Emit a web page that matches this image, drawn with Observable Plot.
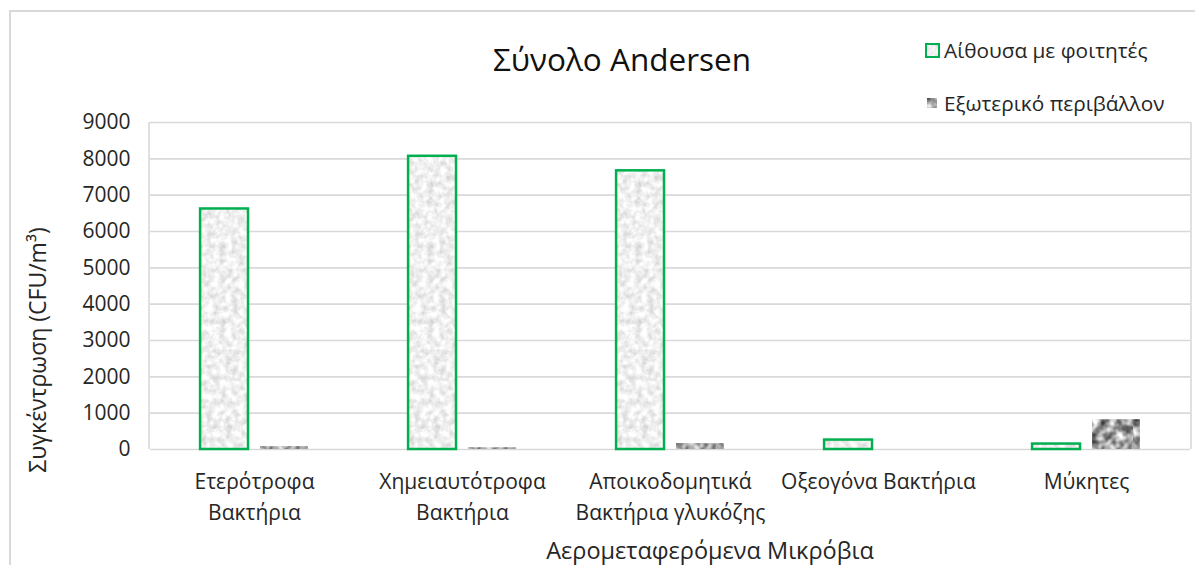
<!DOCTYPE html>
<html>
<head>
<meta charset="utf-8">
<script src="https://cdn.jsdelivr.net/npm/d3@7"></script>
<script src="https://cdn.jsdelivr.net/npm/@observablehq/plot@0.6"></script>
<style>
  html, body { margin: 0; padding: 0; background: #fff; overflow: hidden; }
  #chart { position: relative; width: 1195px; height: 565px; font-family: "Open Sans", "Noto Sans", sans-serif; color: #333; }
  #chart > svg.plot { position: absolute; left: 0; top: 0; }
  .outer { position: absolute; left: 9px; top: 10px; right: -4px; bottom: -4px; border-left: 2px solid #d9d9d9; border-top: 2px solid #d9d9d9; }
  .lbl { position: absolute; white-space: nowrap; line-height: 1.2; transform: translate(-50%, -50%); }
</style>
</head>
<body>
<div id="chart">
  <div class="outer"></div>
  <svg width="0" height="0" style="position:absolute">
    <defs>
      <filter id="noise-light" x="0" y="0" width="100%" height="100%" color-interpolation-filters="sRGB">
        <feTurbulence type="fractalNoise" baseFrequency="0.16" numOctaves="3" seed="4"/>
        <feColorMatrix type="matrix" values="0.3 0 0 0 0.79  0.3 0 0 0 0.79  0.3 0 0 0 0.79  0 0 0 0 1"/>
      </filter>
      <filter id="noise-dark" x="0" y="0" width="100%" height="100%" color-interpolation-filters="sRGB">
        <feTurbulence type="fractalNoise" baseFrequency="0.12" numOctaves="2" seed="9"/>
        <feColorMatrix type="matrix" values="1.3 0 0 0 -0.03  1.3 0 0 0 -0.03  1.3 0 0 0 -0.03  0 0 0 0 1"/>
      </filter>
      <pattern id="tex-light" patternUnits="userSpaceOnUse" width="300" height="600">
        <rect width="300" height="600" fill="#eee" filter="url(#noise-light)"/>
      </pattern>
      <pattern id="tex-dark" patternUnits="userSpaceOnUse" width="300" height="600">
        <rect width="300" height="600" fill="#999" filter="url(#noise-dark)"/>
      </pattern>
    </defs>
  </svg>
</div>
<script>
// Airborne microorganism concentrations, Andersen sampler totals
const categories = [
  "Ετερότροφα Βακτήρια",
  "Χημειαυτότροφα Βακτήρια",
  "Αποικοδομητικά Βακτήρια γλυκόζης",
  "Οξεογόνα Βακτήρια",
  "Μύκητες"
];
const categoryLabels = [
  "Ετερότροφα\nΒακτήρια",
  "Χημειαυτότροφα\nΒακτήρια",
  "Αποικοδομητικά\nΒακτήρια γλυκόζης",
  "Οξεογόνα Βακτήρια",
  "Μύκητες"
];
const series = ["Αίθουσα με φοιτητές", "Εξωτερικό περιβάλλον"];
const classroomValues = [6620, 8070, 7670, 260, 150];
const outdoorValues = [80, 50, 160, 0, 820];
const yTicks = [0, 1000, 2000, 3000, 4000, 5000, 6000, 7000, 8000, 9000];

const titleText = "Σύνολο Andersen";
const yLabelText = "Συγκέντρωση (CFU/m³)";
const xLabelText = "Αερομεταφερόμενα Μικρόβια";

const rows = [
  ...categories.map((c, i) => ({cat: c, series: series[0], value: classroomValues[i]})),
  ...categories.map((c, i) => ({cat: c, series: series[1], value: outdoorValues[i]}))
];
const labelOf = new Map(categories.map((c, i) => [c, categoryLabels[i]]));

const gridColor = "#d9d9d9";
const green = "#00b050";
const textColor = "#262626";

const chart = Plot.plot({
  width: 1195,
  height: 565,
  marginLeft: 149,
  marginRight: 4,
  marginTop: 122,
  marginBottom: 116,
  style: {fontFamily: "Open Sans, Noto Sans, sans-serif", fontSize: "21px", color: textColor, background: "transparent"},
  fx: {domain: categories, padding: 0, label: null},
  x: {domain: series, paddingInner: 0.2, paddingOuter: 0.836, axis: null, round: false},
  y: {domain: [0, 9000], label: null},
  marks: [
    Plot.gridY(yTicks, {stroke: gridColor, strokeOpacity: 1, strokeWidth: 1.6}),
    Plot.barY(rows.filter(d => d.series === series[0]), {
      fx: "cat", x: "series", y: "value",
      fill: "url(#tex-light)", stroke: green, strokeWidth: 2.5
    }),
    Plot.barY(rows.filter(d => d.series === series[1]), {
      fx: "cat", x: "series", y: "value",
      fill: "url(#tex-dark)"
    }),
    Plot.axisY(yTicks, {tickSize: 0, tickPadding: 20, label: null, fontSize: 21, fill: textColor, tickFormat: d => String(d)}),
    Plot.axisFx({
      anchor: "bottom", tickSize: 0, tickPadding: 18, label: null,
      tickFormat: d => labelOf.get(d), lineHeight: 1.45, fontSize: 21, fill: textColor
    })
  ]
});
chart.classList.add("plot");

const root = document.getElementById("chart");
root.appendChild(chart);

// Plot-area border: vertical edges at the ends of the facet range
const [fx0, fx1] = chart.scale("fx").range;
const [y0, y1] = chart.scale("y").range;
const svg = d3.select(chart);
for (const xv of [fx0, fx1]) {
  svg.append("line")
    .attr("x1", xv).attr("x2", xv).attr("y1", Math.min(y0, y1)).attr("y2", Math.max(y0, y1))
    .attr("stroke", gridColor).attr("stroke-width", 1.6);
}

// Title and axis titles
function addLabel(text, x, y, size, extra = {}) {
  const el = document.createElement("div");
  el.className = "lbl";
  el.textContent = text;
  el.style.left = x + "px";
  el.style.top = y + "px";
  el.style.fontSize = size + "px";
  Object.assign(el.style, extra);
  root.appendChild(el);
  return el;
}
addLabel(titleText, 622, 59, 31.5, {color: "#111"});
addLabel(xLabelText, 710, 550, 23.5, {color: textColor});
addLabel(yLabelText, 38, 350, 23, {color: textColor, transform: "translate(-50%, -50%) rotate(-90deg)"});

// Legend
const legendItems = [
  {label: series[0], top: 50, box: {x: 926, y: 44, size: 13, fill: "url(#tex-light)", stroke: green, sw: 2}},
  {label: series[1], top: 103, box: {x: 927, y: 98, size: 10, fill: "url(#tex-dark)", stroke: "none", sw: 0}}
];
for (const item of legendItems) {
  const b = item.box;
  const m = d3.select(root).append("svg")
    .style("position", "absolute").style("left", b.x - 2 + "px").style("top", b.y - 2 + "px")
    .attr("width", b.size + 4).attr("height", b.size + 4);
  m.append("rect").attr("x", 2).attr("y", 2).attr("width", b.size).attr("height", b.size)
    .attr("fill", b.fill).attr("stroke", b.stroke).attr("stroke-width", b.sw);
  addLabel(item.label, 944, item.top, 20.8, {color: textColor, transform: "translate(0, -50%)"});
}
</script>
</body>
</html>
